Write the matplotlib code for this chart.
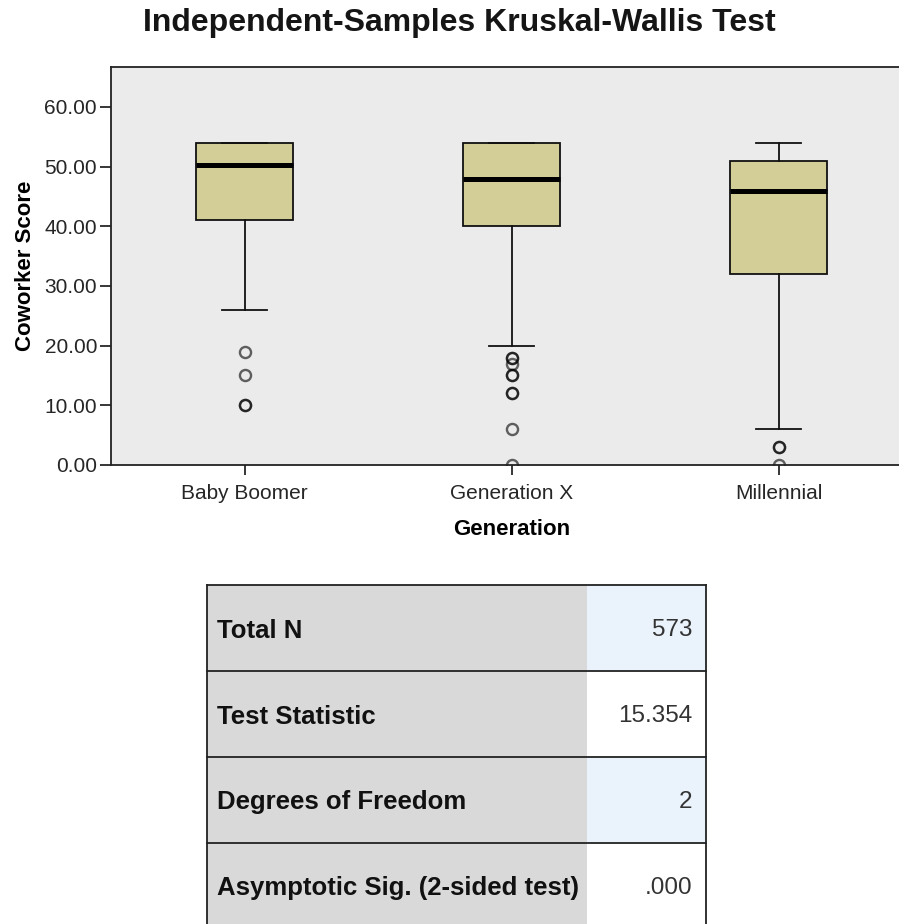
import matplotlib
matplotlib.use("Agg")
import matplotlib.pyplot as plt
from matplotlib.ticker import FormatStrFormatter

plt.rcParams['font.family'] = ['Liberation Sans', 'DejaVu Sans']

# box plot summary per generation
groups = ["Baby Boomer", "Generation X", "Millennial"]
q1 = [41, 40, 32]
medians = [50.3, 48, 46]
q3 = [54, 54, 51]
whisker_lo = [26, 20, 6]
whisker_hi = [54, 54, 54]
outliers = [[19, 15, 10, 10],
            [18, 18, 17, 15, 15, 12, 12, 6, 0],
            [3, 3, 0]]

# test summary table
stat_names = ["Total N", "Test Statistic", "Degrees of Freedom",
              "Asymptotic Sig. (2-sided test)"]
stat_values = ["573", "15.354", "2", ".000"]

W, H = 899, 924
fig = plt.figure(figsize=(W / 100, H / 100), dpi=100)

# plot area in pixel terms: left 111, top 67, bottom 465, runs past right edge
ax = fig.add_axes([111 / W, 1 - 465 / H, 801 / W, 398 / H])
ax.set_facecolor('#EBEBEB')

stats = []
for i in range(len(groups)):
    stats.append(dict(label=groups[i], q1=q1[i], med=medians[i], q3=q3[i],
                      whislo=whisker_lo[i], whishi=whisker_hi[i],
                      fliers=outliers[i]))

ax.bxp(stats, positions=[1, 2, 3], widths=0.36, patch_artist=True,
       boxprops=dict(facecolor='#D3CE98', edgecolor='#111111', linewidth=1.3),
       medianprops=dict(color='black', linewidth=3.6),
       whiskerprops=dict(color='#111111', linewidth=1.3),
       capprops=dict(color='#111111', linewidth=1.3),
       capwidths=0.17,
       flierprops=dict(marker='o', markersize=8, markerfacecolor='none',
                       markeredgecolor=(0, 0, 0, 0.6), markeredgewidth=1.7))

ax.set_xlim(0.5, 3.5)
ax.set_ylim(0, 66.7)
ax.set_yticks([0, 10, 20, 30, 40, 50, 60])
ax.yaxis.set_major_formatter(FormatStrFormatter('%.2f'))
ax.tick_params(axis='y', length=8, width=1.1, pad=2, labelsize=15,
               labelcolor='#262626')
ax.tick_params(axis='x', length=7, width=1.1, pad=7, labelsize=15,
               labelcolor='#262626')
for side in ['left', 'top', 'bottom']:
    ax.spines[side].set_linewidth(1.3)
    ax.spines[side].set_color('#222222')
ax.spines['right'].set_visible(False)

ax.set_xlabel('Generation', fontsize=16, fontweight='bold', labelpad=11)
ax.set_ylabel('Coworker Score', fontsize=16, fontweight='bold', labelpad=6)

fig.text(459 / W, 1 - 23 / H, 'Independent-Samples Kruskal-Wallis Test',
         ha='center', va='center', fontsize=23, fontweight='bold',
         color='#151515')

# summary table below the chart
tax = fig.add_axes([207 / W, 1 - 929 / H, 499 / W, 344 / H])
tax.axis('off')
cells = [[n, v] for n, v in zip(stat_names, stat_values)]
colours = [['#D9D9D9', '#EAF2FB' if r % 2 == 0 else 'white']
           for r in range(len(cells))]
tbl = tax.table(cellText=cells, cellColours=colours,
                colWidths=[380 / 499, 119 / 499], bbox=[0, 0, 1, 1])
tbl.auto_set_font_size(False)
for (r, c), cell in tbl.get_celld().items():
    cell.set_linewidth(0)
    txt = cell.get_text()
    if c == 0:
        cell._loc = 'left'
        cell.PAD = 10 / 380
        txt.set_ha('left')
        txt.set_fontsize(18.5)
        txt.set_fontweight('bold')
        txt.set_color('#111111')
    else:
        cell._loc = 'right'
        cell.PAD = 14 / 119
        txt.set_ha('right')
        txt.set_fontsize(17.5)
        txt.set_color('#333333')
    txt.set_va('center_baseline')

# row rules and outer border (no rule between the two columns)
for k in range(len(cells) + 1):
    tax.axhline(k / len(cells), color='#222222', lw=1.3, clip_on=False)
tax.axvline(0, color='#222222', lw=1.3, clip_on=False)
tax.axvline(1, color='#222222', lw=1.3, clip_on=False)

fig.savefig('out.png', dpi=100)
